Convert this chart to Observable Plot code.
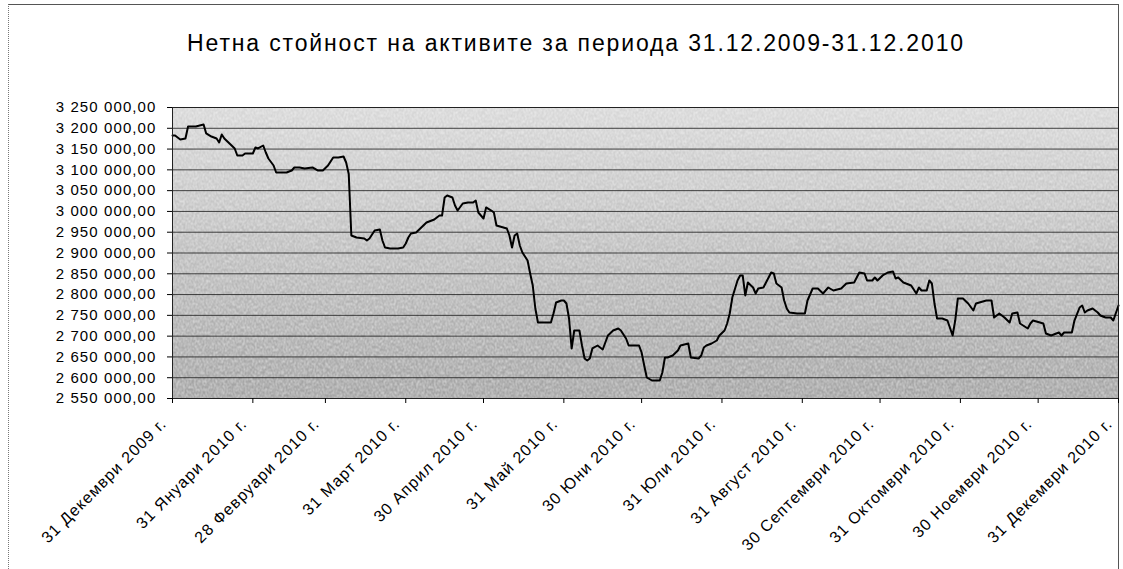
<!DOCTYPE html>
<html><head><meta charset="utf-8">
<script src="https://cdn.jsdelivr.net/npm/d3@7"></script>
<script src="https://cdn.jsdelivr.net/npm/@observablehq/plot@0.6"></script>
<style>
html,body{margin:0;padding:0;background:#fff;}
#wrap{position:relative;width:1123px;height:569px;overflow:hidden;font-family:"Liberation Sans",Arial,sans-serif;}
#title{position:absolute;left:576px;top:32px;transform:translateX(-50%);white-space:nowrap;font-size:23px;line-height:23px;letter-spacing:1.85px;color:#000;}
#border{position:absolute;left:8px;top:4px;width:1109px;height:580px;border-left:1px dotted #777;border-top:1px solid #555;border-right:1px solid #555;}
#chart{position:absolute;left:0;top:0;}
#chart svg text{letter-spacing:1.1px;}
</style></head><body>
<div id="wrap"><div id="border"></div><div id="chart"></div><div id="title">Нетна стойност на активите за периода 31.12.2009-31.12.2010</div></div>
<script>
const dates = [
"2009-12-31","2010-01-01","2010-01-03","2010-01-05","2010-01-06","2010-01-09","2010-01-12","2010-01-13","2010-01-15","2010-01-17",
"2010-01-18","2010-01-19","2010-01-20","2010-01-22","2010-01-24","2010-01-25","2010-01-27","2010-01-28","2010-01-31","2010-02-01",
"2010-02-02","2010-02-04","2010-02-05","2010-02-06","2010-02-08","2010-02-09","2010-02-13","2010-02-15","2010-02-16","2010-02-18",
"2010-02-20","2010-02-23","2010-02-25","2010-02-27","2010-03-01","2010-03-03","2010-03-05","2010-03-07","2010-03-08","2010-03-09",
"2010-03-10","2010-03-12","2010-03-15","2010-03-16","2010-03-17","2010-03-19","2010-03-21","2010-03-22","2010-03-23","2010-03-25",
"2010-03-28","2010-03-30","2010-03-31","2010-04-01","2010-04-02","2010-04-04","2010-04-06","2010-04-08","2010-04-10","2010-04-11",
"2010-04-13","2010-04-14","2010-04-15","2010-04-16","2010-04-18","2010-04-19","2010-04-20","2010-04-22","2010-04-24","2010-04-26",
"2010-04-27","2010-04-28","2010-04-30","2010-05-01","2010-05-03","2010-05-04","2010-05-05","2010-05-09","2010-05-10","2010-05-11",
"2010-05-12","2010-05-13","2010-05-14","2010-05-15","2010-05-17","2010-05-18","2010-05-19","2010-05-20","2010-05-21","2010-05-26",
"2010-05-27","2010-05-28","2010-05-30","2010-05-31","2010-06-01","2010-06-02","2010-06-03","2010-06-04","2010-06-06","2010-06-07",
"2010-06-08","2010-06-09","2010-06-10","2010-06-11","2010-06-13","2010-06-15","2010-06-16","2010-06-17","2010-06-19","2010-06-21",
"2010-06-22","2010-06-24","2010-06-25","2010-06-29","2010-06-30","2010-07-01","2010-07-02","2010-07-04","2010-07-07","2010-07-08",
"2010-07-09","2010-07-10","2010-07-12","2010-07-14","2010-07-15","2010-07-18","2010-07-19","2010-07-22","2010-07-23","2010-07-24",
"2010-07-25","2010-07-27","2010-07-29","2010-07-30","2010-08-01","2010-08-02","2010-08-03","2010-08-04","2010-08-06","2010-08-07",
"2010-08-08","2010-08-09","2010-08-10","2010-08-12","2010-08-13","2010-08-14","2010-08-16","2010-08-18","2010-08-19","2010-08-20",
"2010-08-21","2010-08-23","2010-08-24","2010-08-25","2010-08-26","2010-08-29","2010-09-01","2010-09-02","2010-09-04","2010-09-06",
"2010-09-08","2010-09-10","2010-09-12","2010-09-15","2010-09-17","2010-09-20","2010-09-21","2010-09-22","2010-09-24","2010-09-25",
"2010-09-27","2010-09-28","2010-09-29","2010-10-01","2010-10-03","2010-10-05","2010-10-06","2010-10-07","2010-10-09","2010-10-12",
"2010-10-14","2010-10-15","2010-10-16","2010-10-18","2010-10-19","2010-10-20","2010-10-21","2010-10-22","2010-10-24","2010-10-26",
"2010-10-28","2010-10-29","2010-10-30","2010-11-01","2010-11-03","2010-11-05","2010-11-06","2010-11-10","2010-11-12","2010-11-13",
"2010-11-15","2010-11-17","2010-11-19","2010-11-20","2010-11-22","2010-11-23","2010-11-26","2010-11-27","2010-11-28","2010-12-02",
"2010-12-03","2010-12-05","2010-12-07","2010-12-08","2010-12-09","2010-12-10","2010-12-13","2010-12-14","2010-12-16","2010-12-17",
"2010-12-18","2010-12-19","2010-12-21","2010-12-23","2010-12-24","2010-12-26","2010-12-28","2010-12-29","2010-12-31"
];
const values = [
3182600,3182600,3173000,3175400,3204300,3204300,3209100,3187500,3180200,3175400,
3165800,3185100,3175400,3163400,3151400,3134500,3134500,3139300,3139300,3153800,
3151400,3158600,3141800,3127300,3110500,3093600,3093600,3098500,3105700,3105700,
3103300,3105700,3098500,3098500,3110500,3129700,3129700,3132100,3117700,3090000,
2942100,2937300,2934900,2930100,2934900,2954100,2956500,2930100,2913200,2910800,
2910800,2913200,2922900,2937300,2946900,2949300,2961300,2973400,2978200,2980600,
2990200,2990200,3033500,3038300,3033500,3014300,3002200,3019100,3021500,3021500,
3026300,2997400,2983000,3009500,3002200,2997400,2966200,2958900,2942100,2913200,
2942100,2946900,2918000,2901200,2881900,2850700,2821800,2766500,2732800,2732800,
2754500,2780900,2785700,2785700,2778500,2742400,2670300,2713600,2713600,2677500,
2646200,2641400,2646200,2670300,2677500,2667900,2684700,2701500,2713600,2718400,
2713600,2694300,2677500,2677500,2660700,2629400,2600500,2593300,2593300,2612500,
2648600,2648600,2653400,2665500,2677500,2682300,2648600,2646200,2653400,2672700,
2677500,2682300,2689500,2701500,2713600,2730400,2754500,2793000,2833800,2845900,
2845900,2797800,2829000,2817000,2802600,2814600,2817000,2841100,2853100,2850700,
2826600,2817000,2785700,2766500,2756900,2754500,2754500,2785700,2814600,2814600,
2802600,2817000,2809800,2814600,2826600,2829000,2841100,2853100,2850700,2833800,
2833800,2841100,2833800,2845900,2853100,2855500,2838700,2841100,2829000,2821800,
2802600,2817000,2809800,2809800,2833800,2826600,2778500,2742400,2742400,2737600,
2701500,2737600,2790500,2790500,2778500,2761700,2778500,2785700,2785700,2744800,
2754500,2744800,2732800,2754500,2756900,2730400,2718400,2730400,2737600,2730400,
2706400,2701500,2706400,2708800,2701500,2708800,2708800,2737600,2768900,2773700,
2756900,2761700,2766500,2756900,2749700,2744800,2744800,2737600,2773700
];
const yTicks = [2550000,2600000,2650000,2700000,2750000,2800000,2850000,2900000,2950000,3000000,3050000,3100000,3150000,3200000,3250000];
const xTickDates = ["2009-12-31","2010-01-31","2010-02-28","2010-03-31","2010-04-30","2010-05-31","2010-06-30","2010-07-31","2010-08-31","2010-09-30","2010-10-31","2010-11-30","2010-12-31"];
const monthNames = ["Януари","Февруари","Март","Април","Май","Юни","Юли","Август","Септември","Октомври","Ноември","Декември"];

const data = dates.map((d, i) => ({date: new Date(d + "T00:00:00Z"), value: values[i]}));
const xTicks = xTickDates.map(d => new Date(d + "T00:00:00Z"));
const loc = d3.formatLocale({decimal: ",", thousands: " ", grouping: [3], currency: ["", ""]});
const yFmt = loc.format(",.2f");
const xLabel = d => `${d.getUTCDate()} ${monthNames[d.getUTCMonth()]} ${d.getUTCFullYear()} г.`;
const font = '"Liberation Sans", Arial, sans-serif';

const chart = Plot.plot({
  width: 1123, height: 569,
  marginTop: 107, marginBottom: 171, marginLeft: 172, marginRight: 5,
  x: {type: "utc", domain: [xTicks[0], xTicks[xTicks.length - 1]]},
  y: {domain: [2550000, 3250000]},
  style: {fontFamily: font, background: "transparent", color: "#000", overflow: "visible"},
  marks: [
    Plot.frame({fill: "url(#bgGrad)"}),
    Plot.frame({fill: "url(#noisePat)"}),
    Plot.gridY(yTicks, {stroke: "#1a1a1a", strokeOpacity: 0.8, strokeWidth: 1}),
    Plot.line(data, {x: "date", y: "value", stroke: "#000", strokeWidth: 2}),
    Plot.frame({stroke: "#222", strokeWidth: 1}),
    Plot.axisY({ticks: yTicks, tickFormat: yFmt, tickSize: 5, tickPadding: 11, fontSize: 15, label: null, stroke: "#000"}),
    Plot.axisX({ticks: xTicks, tickFormat: () => "", tickSize: 5, label: null, stroke: "#000"}),
    Plot.text(xTicks, {x: d => d, text: xLabel, frameAnchor: "bottom", rotate: -45, textAnchor: "end", lineAnchor: "top", dx: -13, dy: 18, fontSize: 16, fill: "#000"})
  ]
});
d3.select(chart).insert("defs", ":first-child").html(
  '<linearGradient id="bgGrad" x1="0" y1="0" x2="0" y2="1"><stop offset="0" stop-color="#d6d6d6"/><stop offset="1" stop-color="#a0a0a0"/></linearGradient>' +
  '<filter id="noiseF" x="0" y="0" width="100%" height="100%"><feTurbulence type="fractalNoise" baseFrequency="0.9 0.35" numOctaves="2" seed="3"/><feColorMatrix type="matrix" values="0 0 0 0 1  0 0 0 0 1  0 0 0 0 1  0 0 0 -3 1.9"/></filter>' +
  '<pattern id="noisePat" patternUnits="userSpaceOnUse" width="240" height="240"><rect width="240" height="240" filter="url(#noiseF)" opacity="0.45"/></pattern>'
);
document.getElementById("chart").appendChild(chart);
</script>
</body></html>
